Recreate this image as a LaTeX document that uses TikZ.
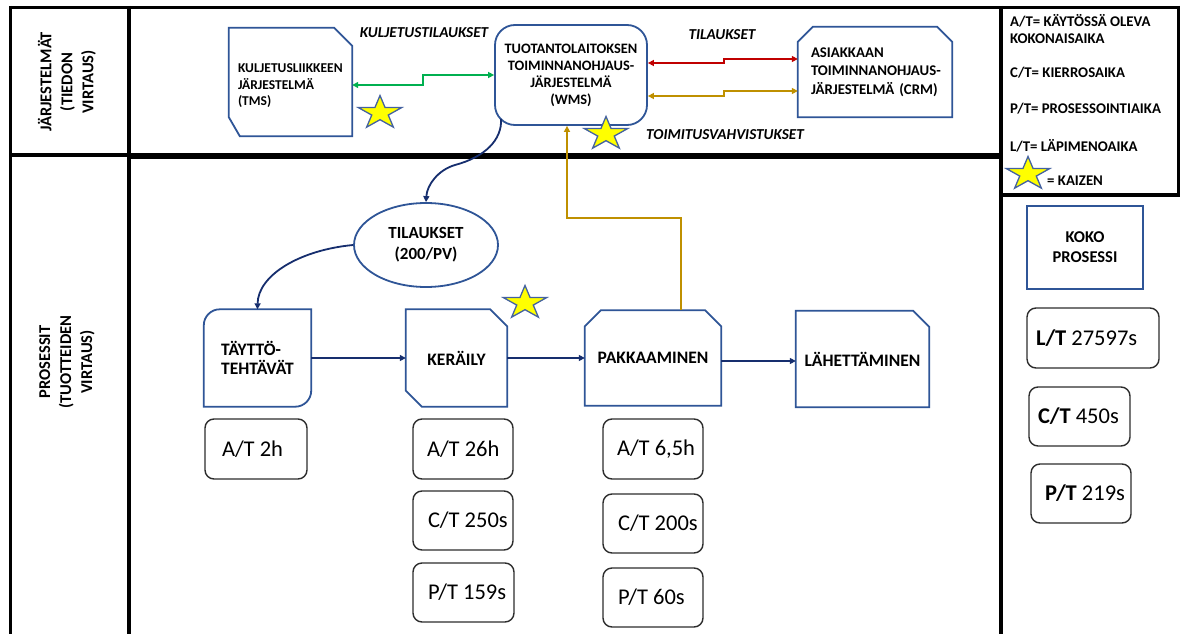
\documentclass[tikz,border=0pt]{standalone}
\usepackage{fontspec}
\setmainfont{Carlito}
\usetikzlibrary{shapes.geometric,arrows.meta}

\definecolor{nodeblue}{RGB}{47,85,151}
\definecolor{flownavy}{RGB}{22,46,110}
\definecolor{infogreen}{RGB}{0,176,80}
\definecolor{infored}{RGB}{192,0,0}
\definecolor{infogold}{RGB}{191,144,0}
\definecolor{metricgray}{RGB}{45,45,45}
\definecolor{kaizenyellow}{RGB}{255,255,0}
\definecolor{kaizenedge}{RGB}{68,98,160}

\begin{document}
\begin{tikzpicture}[x=1pt,y=-1pt,
  sysbox/.style={inner sep=0pt, font=\bfseries\fontsize{13.5}{16.5}\selectfont},
  outline/.style={draw=nodeblue, line width=1.8pt, line join=miter},
  procbox/.style={inner sep=0pt, font=\bfseries\fontsize{17.5}{19.5}\selectfont, align=left},
  metric/.style={draw=metricgray, line width=1.4pt, rounded corners=9pt, inner ysep=0pt, font=\fontsize{22.5}{26}\selectfont},
  flowlabel/.style={inner sep=0pt, font=\bfseries\itshape\fontsize{15.2}{17}\selectfont},
  legendtext/.style={anchor=west, inner sep=0pt, align=left, font=\bfseries\fontsize{14.8}{17}\selectfont},
  lanelabel/.style={rotate=90, align=center, inner sep=0pt, font=\bfseries\fontsize{16.5}{21}\selectfont},
  kaizen/.style={star, star points=5, star point ratio=2.618, minimum size=35pt, inner sep=0pt,
    fill=kaizenyellow, draw=kaizenedge, line width=1.3pt},
  infoarrow/.style={line width=1.8pt, {Triangle[length=6pt,width=6pt]}-{Triangle[length=6pt,width=6pt]}},
  flowarrow/.style={draw=flownavy, line width=1.8pt, -{Triangle[length=6pt,width=6pt]}},
]
\useasboundingbox (0,0) rectangle (1183,634);
\fill[white] (0,0) rectangle (1183,634);

% ---- swim-lane frame ----
\draw[line width=3.5pt] (9,7.5) -- (1179,7.5);
\draw[line width=3pt] (10,6) -- (10,634);
\draw[line width=4pt] (128.5,6) -- (128.5,634);
\draw[line width=4pt] (1001,6) -- (1001,634);
\draw[line width=3pt] (1178.5,6) -- (1178.5,196.5);
\draw[line width=3.5pt] (1001,195) -- (1180,195);
\draw[line width=4pt] (9,154.5) -- (128.5,154.5);
\draw[line width=6.5pt] (128.5,156) -- (1001,156);

\node[lanelabel] (lane1) at (67,82) {JÄRJESTELMÄT\\(TIEDON\\VIRTAUS)};
\node[lanelabel] (lane2) at (67,362) {PROSESSIT\\(TUOTTEIDEN\\VIRTAUS)};

% ---- information systems ----
\node[sysbox, minimum width=123pt, minimum height=108pt, text width=105pt, align=left, text depth=27pt] (tms) at (290.5,82)
  {\mbox{KULJETUSLIIKKEEN}\\\mbox{JÄRJESTELMÄ}\\\mbox{(TMS)}};
\draw[outline] (tms.north west) -- ([xshift=-18pt]tms.north east) -- ([yshift=-18pt]tms.north east)
  -- (tms.south east) -- ([xshift=11pt]tms.south west) -- ([yshift=19pt]tms.south west) -- cycle;

\node[sysbox, font=\bfseries\fontsize{14.4}{17}\selectfont, draw=nodeblue, line width=1.8pt, rounded corners=20pt,
  minimum width=152pt, minimum height=100pt, align=center] (wms) at (571,75)
  {TUOTANTOLAITOKSEN\\TOIMINNANOHJAUS-\\JÄRJESTELMÄ\\(WMS)};

\node[sysbox, font=\bfseries\fontsize{14.8}{18.5}\selectfont, minimum width=154pt, minimum height=90pt,
  text width=128pt, align=left] (crm) at (875,72)
  {\mbox{ASIAKKAAN}\\\mbox{TOIMINNANOHJAUS-}\\\mbox{JÄRJESTELMÄ (CRM)}};
\draw[outline] ([yshift=-15pt]crm.north west) -- ([xshift=15pt]crm.north west) -- ([xshift=-15pt]crm.north east)
  -- ([yshift=-15pt]crm.north east) -- (crm.south east) -- (crm.south west) -- cycle;

\node[flowlabel] (lblkul) at (424,33) {KULJETUSTILAUKSET};
\node[flowlabel] (lbltil) at (722,35) {TILAUKSET};
\node[flowlabel] (lbltoi) at (725,135) {TOIMITUSVAHVISTUKSET};

\draw[infoarrow, draw=infogreen] ([yshift=-3pt]tms.east) -- ++(71,0) |- (wms.west);
\draw[infoarrow, draw=infored] ([yshift=12pt]wms.east) -- ++(76,0) |- ([yshift=13pt]crm.west);
\draw[infoarrow, draw=infogold] ([yshift=-21pt]wms.east) -- ++(76,0) |- ([yshift=-19pt]crm.west);

% ---- orders ----
\node[draw=nodeblue, line width=1.8pt, ellipse, minimum width=144pt, minimum height=84pt, inner sep=0pt,
  align=center, font=\bfseries\fontsize{17}{21}\selectfont] (tila) at (426,245) {TILAUKSET\\(200/PV)};

\draw[flowarrow] ([xshift=7pt,yshift=7pt]wms.south west) .. controls (502,140) and (485,157) .. (455,165)
  .. controls (438,170) and (427,185) .. (tila.north);

% ---- process steps ----
\node[procbox, minimum width=107pt, minimum height=97pt] (tay) at (257.5,358) {TÄYTTÖ-\\TEHTÄVÄT};
\draw[outline] ([xshift=16pt]tay.north west) -- (tay.north east) -- ([yshift=16pt]tay.south east)
  to[out=-90,in=0] ([xshift=-16pt]tay.south east) -- (tay.south west) -- ([yshift=-16pt]tay.north west)
  to[out=90,in=180] ([xshift=16pt]tay.north west) -- cycle;

\node[procbox, minimum width=101pt, minimum height=97pt] (ker) at (456.5,358) {KERÄILY};
\draw[outline] (ker.north west) -- ([xshift=-17pt]ker.north east) -- ([yshift=-17pt]ker.north east)
  -- (ker.south east) -- ([xshift=16pt]ker.south west) -- ([yshift=16pt]ker.south west) -- cycle;

\node[procbox, minimum width=136pt, minimum height=95pt] (pak) at (653,358) {PAKKAAMINEN};
\draw[outline] ([yshift=-16pt]pak.north west) -- ([xshift=16pt]pak.north west) -- ([xshift=-16pt]pak.north east)
  -- ([yshift=-16pt]pak.north east) -- (pak.south east) -- (pak.south west) -- cycle;

\node[procbox, minimum width=133pt, minimum height=96pt] (lah) at (862.5,359) {LÄHETTÄMINEN};
\draw[outline] (lah.north west) -- ([xshift=-16pt]lah.north east) -- ([yshift=-16pt]lah.north east)
  -- (lah.south east) -- (lah.south west) -- cycle;

\draw[flowarrow] (tila.west) .. controls (300,250) and (258,275) .. (tay.north);
\draw[flowarrow] (tay.east) -- (tay.east -| ker.west);
\draw[flowarrow] (ker.east) -- (ker.east -| pak.west);
\draw[flowarrow] ([yshift=-3pt]pak.east) -- ([yshift=-3pt]pak.east -| lah.west);

\draw[draw=infogold, line width=1.8pt, -{Triangle[length=6pt,width=6pt]}]
  ([xshift=28pt]pak.north) -- ++(0,-92) -| ([xshift=-4pt]wms.south);

% ---- time figures per step ----
\node[metric, minimum width=102pt, minimum height=60pt, inner xsep=17pt] (at2) at (256,449) {\makebox[68pt][l]{A/T 2h}};
\node[metric, minimum width=100pt, minimum height=60pt, inner xsep=14pt] (at26) at (463,449) {\makebox[72pt][l]{A/T 26h}};
\node[metric, minimum width=100pt, minimum height=59pt, inner xsep=15pt] (ct250) at (463,520.5) {\makebox[70pt][l]{C/T 250s}};
\node[metric, minimum width=101pt, minimum height=59pt, inner xsep=15pt] (pt159) at (463.5,592.5) {\makebox[71pt][l]{P/T 159s}};
\node[metric, minimum width=100pt, minimum height=60pt, inner xsep=14pt] (at65) at (653,449) {\makebox[72pt][l]{A/T 6,5h}};
\node[metric, minimum width=100pt, minimum height=59pt, inner xsep=15pt] (ct200) at (653,523.5) {\makebox[70pt][l]{C/T 200s}};
\node[metric, minimum width=100pt, minimum height=59pt, inner xsep=15pt] (pt60) at (653,597.5) {\makebox[70pt][l]{P/T 60s}};

% ---- whole process ----
\node[draw=nodeblue, line width=1.8pt, minimum width=116pt, minimum height=83pt, align=center,
  font=\bfseries\fontsize{16.5}{20}\selectfont] (koko) at (1085,247.5) {KOKO\\PROSESSI};
\node[metric, minimum width=132pt, minimum height=60pt, inner xsep=9pt] (lt) at (1093,338) {\makebox[114pt][l]{\textbf{L/T} 27597s}};
\node[metric, minimum width=101pt, minimum height=59pt, inner xsep=9pt] (ct450) at (1079.5,416.5) {\makebox[83pt][l]{\textbf{C/T} 450s}};
\node[metric, minimum width=100pt, minimum height=59pt, inner xsep=14pt] (pt219) at (1081,493.5) {\makebox[72pt][l]{\textbf{P/T} 219s}};

% ---- legend ----
\node[legendtext] (lgat) at (1010,29.5) {A/T= KÄYTÖSSÄ OLEVA\\KOKONAISAIKA};
\node[legendtext] (lgct) at (1010,73) {C/T= KIERROSAIKA};
\node[legendtext] (lgpt) at (1010,109) {P/T= PROSESSOINTIAIKA};
\node[legendtext] (lglt) at (1010,146) {L/T= LÄPIMENOAIKA};
\node[legendtext] (lgkz) at (1047,181) {= KAIZEN};

% ---- kaizen stars ----
\begin{scope}[shift={(380,113)}, xscale=1.3]
  \node[kaizen, transform shape] (kz1) at (0,0) {};
\end{scope}
\begin{scope}[shift={(606,134)}, xscale=1.3]
  \node[kaizen, transform shape] (kz2) at (0,0) {};
\end{scope}
\begin{scope}[shift={(525,303)}, xscale=1.3]
  \node[kaizen, transform shape] (kz3) at (0,0) {};
\end{scope}
\begin{scope}[shift={(1028,174)}, xscale=1.3]
  \node[kaizen, transform shape] (kz4) at (0,0) {};
\end{scope}
\end{tikzpicture}
\end{document}
